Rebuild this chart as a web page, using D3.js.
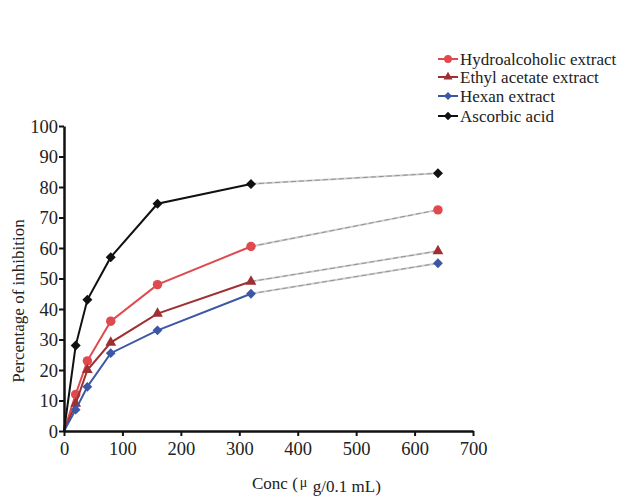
<!DOCTYPE html>
<html>
<head>
<meta charset="utf-8">
<script src="https://d3js.org/d3.v7.min.js"></script>
<style>
  body { margin: 0; background: #fff; }
  text { font-family: "Liberation Serif", "DejaVu Serif", serif; fill: #222; }
</style>
</head>
<body>
<script>
var width = 627, height = 496;

// data
var conc = [0, 20, 40, 80, 160, 320, 640];
var hydro = [0, 12, 23, 36, 48, 60.5, 72.5];
var ethyl = [0, 9, 20, 29, 38.5, 49, 59];
var hexan = [0, 7, 14.5, 25.5, 33, 45, 55];
var ascorbic = [0, 28, 43, 57, 74.5, 81, 84.5];
var seriesNames = ["Hydroalcoholic extract", "Ethyl acetate extract", "Hexan extract", "Ascorbic acid"];
var xTicks = [0, 100, 200, 300, 400, 500, 600, 700];
var yTicks = [0, 10, 20, 30, 40, 50, 60, 70, 80, 90, 100];

var series = [
  { name: seriesNames[0], values: hydro, color: "#e04a4f", sym: d3.symbolCircle, size: 70, rot: 0 },
  { name: seriesNames[1], values: ethyl, color: "#9e2f33", sym: d3.symbolTriangle, size: 50, rot: 0 },
  { name: seriesNames[2], values: hexan, color: "#3b57a5", sym: d3.symbolSquare, size: 48, rot: 45 },
  { name: seriesNames[3], values: ascorbic, color: "#111111", sym: d3.symbolSquare, size: 50, rot: 45 }
];

var svg = d3.select("body").append("svg").attr("width", width).attr("height", height);

var x = d3.scaleLinear().domain([0, 700]).range([64, 473]);
var y = d3.scaleLinear().domain([0, 100]).range([431, 126]);

// 320 -> 640 の区間は灰色の破線
var line = d3.line().x(function(d) { return x(d[0]); }).y(function(d) { return y(d[1]); });

series.forEach(function(s) {
  var pts = conc.map(function(c, i) { return [c, s.values[i]]; });
  svg.append("path").attr("d", line(pts.slice(5)))
    .attr("fill", "none").attr("stroke", "#cfcfcf").attr("stroke-width", 2);
  svg.append("path").attr("d", line(pts.slice(5)))
    .attr("fill", "none").attr("stroke", "#666").attr("stroke-width", 0.6)
    .attr("stroke-dasharray", "5,3");
  svg.append("path").attr("d", line(pts.slice(0, 6)))
    .attr("fill", "none").attr("stroke", s.color).attr("stroke-width", 2);
  svg.append("g").selectAll("path")
    .data(pts.slice(1))
    .enter().append("path")
    .attr("transform", function(d) { return "translate(" + x(d[0]) + "," + y(d[1]) + ") rotate(" + s.rot + ")"; })
    .attr("d", d3.symbol().type(s.sym).size(s.size))
    .attr("fill", s.color);
});

// axes
var axisX = d3.axisBottom(x).tickValues(xTicks).tickSize(5).tickSizeOuter(0);
var axisY = d3.axisLeft(y).tickValues(yTicks).tickSize(5).tickSizeOuter(0);

var gx = svg.append("g").attr("transform", "translate(0," + y(0) + ")").call(axisX);
var gy = svg.append("g").attr("transform", "translate(" + x(0) + ",0)").call(axisY);
[gx, gy].forEach(function(g) {
  g.select(".domain").attr("stroke", "#111").attr("stroke-width", 2.5);
  g.selectAll(".tick line").attr("stroke", "#111").attr("stroke-width", 2);
  g.selectAll(".tick text").attr("font-size", 18.5).attr("font-family", "Liberation Serif, serif").attr("fill", "#222");
});
gx.selectAll(".tick text").attr("dy", "0.85em");
gy.selectAll(".tick text").attr("x", -6).attr("dy", "0.35em");

// axis labels
svg.append("text")
  .attr("transform", "translate(24," + 301 + ") rotate(-90)")
  .attr("text-anchor", "middle").attr("font-size", 17)
  .text("Percentage of inhibition");

var xl = svg.append("text").attr("x", 252).attr("y", 489).attr("font-size", 17);
xl.append("tspan").text("Conc (");
xl.append("tspan").attr("dx", 2).attr("dy", -2).attr("font-size", 14).text("μ ");
xl.append("tspan").attr("dx", 2).attr("dy", 5).text("g/0.1 mL)");

// legend
var legend = svg.append("g");
var ly = [59, 77, 96, 116];
series.forEach(function(s, i) {
  var g = legend.append("g").attr("transform", "translate(0," + ly[i] + ")");
  g.append("line").attr("x1", 438).attr("x2", 458).attr("y1", 0).attr("y2", 0)
    .attr("stroke", s.color).attr("stroke-width", 2);
  g.append("path").attr("transform", "translate(448,0) rotate(" + s.rot + ")")
    .attr("d", d3.symbol().type(s.sym).size(s.size * 0.7)).attr("fill", s.color);
  g.append("text").attr("x", 460).attr("y", 0).attr("dy", "0.35em")
    .attr("font-size", 17).text(s.name);
});
</script>
</body>
</html>
